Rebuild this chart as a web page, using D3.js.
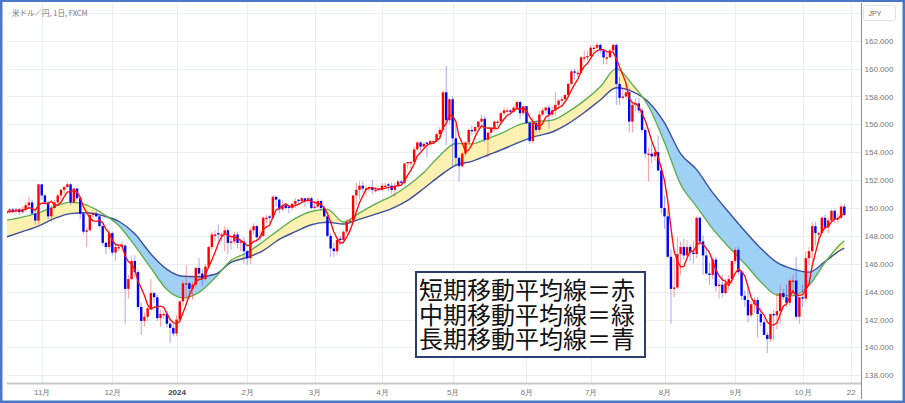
<!DOCTYPE html>
<html><head><meta charset="utf-8">
<script src="https://cdn.jsdelivr.net/npm/d3@7"></script>
<style>html,body{margin:0;padding:0;background:#fff}svg{display:block}
.lg{line-height:24.5px;font-family:'Noto Sans CJK JP',sans-serif;font-size:24px;color:#111;white-space:pre-line;margin:0;padding:0}</style>
</head><body><svg id="c" width="905" height="403"></svg>
<script>
// ---------- DATA ----------
const title = "米ドル／円, 1日, FXCM";
const currency = "JPY";
const startDate = "2023-10-17";
const endDate = "2024-10-22";
const holidays = ["2023-12-25", "2024-01-01"];

const opens = [
149.6,149.8,149.9,149.8,149.9,149.7,149.9,150.2,150.4,149.6,
149.1,151.7,150.9,150.4,149.4,150.0,150.4,150.9,151.3,151.5,
151.7,150.4,151.4,150.7,149.6,148.3,148.4,149.5,149.6,149.4,
148.7,147.5,147.2,148.2,146.8,147.1,147.2,147.3,144.2,144.9,
146.2,145.4,142.9,141.9,142.2,142.8,143.9,143.6,142.1,142.3,
142.4,141.7,141.4,141.0,142.0,143.3,144.5,144.6,144.2,144.5,
145.7,145.3,144.9,145.8,147.2,148.0,148.2,148.0,148.1,148.4,
147.5,147.6,148.1,147.5,147.6,146.9,146.4,148.4,148.7,147.9,
148.0,149.2,149.4,149.3,150.8,150.6,149.9,150.2,150.1,150.0,
150.3,150.6,150.5,150.7,150.5,150.7,150.0,150.1,150.5,150.0,
149.4,148.0,147.1,146.9,147.8,147.7,148.3,149.0,149.1,150.9,
151.3,151.6,151.3,151.4,151.5,151.2,151.35,151.3,151.5,151.7,
151.6,151.3,151.6,151.9,151.8,153.2,153.2,153.3,154.2,154.7,
154.4,154.7,154.6,154.7,154.8,155.3,155.6,158.3,156.3,157.8,
155.0,153.6,153.0,153.9,154.7,155.6,155.5,155.8,156.2,156.4,
154.9,155.4,155.7,156.1,156.2,156.8,156.9,157.0,156.9,157.2,
157.6,156.8,157.3,156.1,154.8,156.1,155.6,156.7,157.0,157.2,
156.7,157.0,157.4,157.7,157.8,158.1,158.9,159.8,159.6,159.7,
160.7,160.8,160.9,161.4,161.5,161.7,161.3,160.7,160.8,161.3,
161.7,158.9,157.9,158.0,158.3,156.2,157.4,157.5,157.0,155.6,
153.8,153.9,153.7,154.0,152.7,150.0,149.4,146.5,144.2,144.3,
146.7,147.2,146.6,147.2,146.8,146.7,149.3,147.6,146.6,145.3,
145.2,146.3,144.4,144.5,143.9,144.6,144.9,146.2,147.0,145.4,
143.7,143.4,142.3,143.1,143.4,142.4,141.8,140.9,140.6,142.4,
142.3,142.6,143.9,143.6,143.2,144.7,144.8,142.2,143.6,143.5,
146.4,146.9,148.7,148.1,148.2,149.3,148.6,149.1,149.8,149.2,
149.3,150.1];
const highs = [
149.9,150.0,150.0,150.0,150.0,150.1,150.4,150.8,150.6,149.8,
151.75,151.7,151.0,150.5,150.2,150.6,151.0,151.4,151.6,151.9,
151.8,151.4,151.4,150.8,149.7,148.6,149.7,149.7,149.8,149.5,
148.8,147.6,148.5,148.3,147.5,147.4,147.6,147.4,145.2,146.6,
146.6,145.6,143.2,142.5,142.9,144.9,144.0,143.8,142.7,142.6,
142.6,141.8,141.7,142.3,143.4,144.8,145.9,144.7,144.7,145.8,
146.4,145.6,146.0,147.3,148.3,148.4,148.8,148.3,148.7,148.6,
147.9,148.3,148.3,147.8,147.9,147.0,148.6,148.9,148.8,148.4,
149.4,149.5,149.5,150.9,150.9,150.7,150.5,150.3,150.2,150.4,
150.7,150.6,150.8,150.7,150.8,150.8,150.5,150.7,150.6,150.2,
149.5,148.2,147.5,147.8,148.0,148.4,149.2,149.2,150.9,151.8,
151.9,151.9,151.6,151.6,152.0,151.5,151.4,151.8,151.8,151.8,
151.8,151.8,152.0,152.0,153.2,153.3,153.4,154.4,154.8,154.8,
154.7,154.7,154.9,154.9,155.4,155.8,158.4,160.2,157.9,158.0,
156.0,153.7,154.0,154.8,155.7,155.9,155.9,156.2,156.7,156.6,
155.5,155.8,156.3,156.3,156.9,157.2,157.2,157.1,157.3,157.7,
157.7,157.3,157.3,156.2,156.5,156.3,157.0,157.2,157.3,157.4,
157.3,158.3,157.8,158.0,158.2,159.0,159.9,160.0,159.9,160.9,
161.3,161.3,161.7,161.7,161.9,161.8,161.3,161.2,161.4,161.8,
161.8,159.4,158.6,158.9,158.6,157.6,157.9,157.9,157.2,155.8,
154.3,154.7,154.2,155.2,153.1,150.9,149.9,147.0,146.4,147.9,
147.6,147.8,147.7,147.4,147.6,149.4,149.4,148.0,147.2,146.1,
146.5,146.5,144.9,145.2,144.9,145.2,146.2,147.2,147.2,145.5,
144.1,144.6,143.3,143.6,143.6,142.9,142.1,141.1,142.4,142.7,
143.9,144.5,144.2,144.5,144.9,145.2,146.5,143.6,144.5,146.9,
147.2,149.0,149.0,148.3,149.4,149.5,149.3,149.9,149.9,149.6,
150.3,150.3];
const lows = [
149.5,149.6,149.6,149.6,149.5,149.6,149.8,150.1,149.5,148.8,
148.8,150.6,150.2,149.2,149.0,149.9,150.2,150.6,151.0,151.4,
150.2,150.3,150.6,149.2,148.1,147.2,148.4,149.3,149.3,148.6,
147.3,146.7,147.0,146.6,146.2,146.9,146.9,141.7,143.5,144.8,
145.0,142.7,140.9,141.5,141.9,142.8,143.2,141.9,141.5,142.1,
141.4,140.3,140.8,140.8,141.8,143.0,143.4,143.6,143.4,144.3,
144.9,144.4,144.8,145.6,147.0,147.6,147.6,147.6,146.9,146.7,
147.0,147.4,147.1,146.9,146.0,145.9,146.0,148.1,147.6,147.6,
147.9,148.9,148.9,149.2,150.1,149.6,149.8,149.9,149.6,149.8,
150.0,150.3,150.4,150.1,150.3,149.9,149.9,150.0,149.8,149.3,
147.9,146.5,146.5,146.6,147.3,147.4,148.1,148.9,148.9,150.2,
150.6,151.1,150.8,151.2,151.0,151.1,151.2,151.2,151.5,151.2,
151.0,150.8,151.6,151.6,151.7,152.8,152.6,153.1,154.1,154.1,
154.2,153.6,154.5,154.6,154.7,155.0,155.4,154.5,156.0,153.0,
153.0,151.9,152.9,153.7,154.6,155.2,155.3,155.6,156.0,154.7,
153.6,155.2,155.5,155.9,156.1,156.6,156.8,156.6,156.8,157.0,
156.4,156.6,156.0,154.6,154.6,155.4,155.4,156.6,156.8,155.7,
156.5,156.6,157.1,157.5,157.7,157.9,158.8,159.2,159.4,159.7,
160.5,160.6,160.8,161.2,161.2,161.1,160.3,160.3,160.8,161.2,
157.4,157.4,157.8,157.8,155.4,155.4,156.9,156.8,155.4,153.6,
151.9,153.2,153.4,152.6,149.6,148.5,146.4,141.7,143.6,144.2,
145.2,146.3,146.5,146.2,146.0,146.4,147.3,145.2,145.2,144.5,
144.9,144.0,143.5,143.6,143.8,144.1,144.5,146.0,145.2,143.4,
142.9,141.8,142.1,142.5,140.7,141.5,140.9,139.6,140.4,140.5,
141.3,141.7,143.4,142.9,143.0,144.1,142.0,141.7,142.9,143.3,
145.9,145.9,147.3,147.4,148.1,148.5,148.2,149.0,148.9,148.9,
149.2,149.4];
const closes = [
149.8,149.9,149.8,149.9,149.7,149.9,150.2,150.4,149.6,149.1,
151.7,150.9,150.4,149.4,150.0,150.4,150.9,151.3,151.5,151.7,
150.4,151.4,150.7,149.6,148.3,148.4,149.5,149.6,149.4,148.7,
147.5,147.2,148.2,146.8,147.2,147.2,147.3,144.2,144.9,146.2,
145.4,142.9,141.9,142.2,142.8,143.9,143.6,142.1,142.4,142.4,
141.7,141.4,141.0,142.0,143.3,144.6,144.6,144.2,144.5,145.7,
145.3,144.9,145.8,147.2,148.1,148.1,148.1,148.1,148.4,147.5,
147.6,148.1,147.5,147.6,146.9,146.4,148.4,148.7,147.9,148.0,
149.3,149.3,149.3,150.8,150.6,149.9,150.2,150.0,150.0,150.3,
150.5,150.5,150.7,150.5,150.7,150.0,150.1,150.5,150.0,149.4,
148.0,147.1,146.9,147.7,147.7,148.3,149.0,149.1,150.9,151.3,
151.6,151.4,151.4,151.5,151.3,151.3,151.3,151.6,151.6,151.6,
151.3,151.6,151.9,151.8,153.2,153.3,153.3,154.2,154.7,154.4,
154.6,154.6,154.8,154.8,155.3,155.6,158.3,156.3,157.8,155.0,
153.6,153.0,153.9,154.7,155.6,155.5,155.8,156.2,156.4,154.9,
155.4,155.7,156.2,156.2,156.8,157.0,157.0,156.9,157.2,157.6,
156.8,157.3,156.1,154.8,156.1,155.6,156.7,157.0,157.2,156.7,
157.0,157.4,157.7,157.8,158.1,158.9,159.8,159.7,159.7,160.8,
160.8,160.9,161.5,161.5,161.7,161.3,160.8,160.8,161.3,161.7,
158.9,157.9,158.0,158.3,156.2,157.4,157.5,157.0,155.6,153.9,
153.9,153.7,154.0,152.7,150.0,149.4,146.5,144.2,144.3,146.7,
147.2,146.6,147.2,146.8,146.7,149.3,147.6,146.6,145.3,145.2,
146.3,144.4,144.5,143.9,144.6,144.9,146.2,147.0,145.4,143.7,
143.4,142.3,143.1,143.4,142.4,141.8,140.9,140.6,142.4,142.3,
142.6,143.9,143.6,143.2,144.8,144.8,142.2,143.6,143.5,146.4,
146.9,148.7,148.2,148.2,149.3,148.6,149.1,149.8,149.2,149.3,
150.1,149.5];

// short moving average (red), one value per bar
const maShort = [
149.70,149.75,149.75,149.80,149.82,149.84,149.90,150.02,149.96,149.84,
150.20,150.34,150.34,150.30,150.48,150.22,150.22,150.40,150.82,151.16,
151.16,151.26,151.14,150.76,150.08,149.68,149.30,149.08,149.04,149.12,
148.94,148.48,148.20,147.68,147.38,147.32,147.34,146.54,146.16,145.96,
145.60,144.72,144.26,143.72,143.04,142.74,142.88,142.92,142.96,142.88,
142.44,142.00,141.78,141.70,141.88,142.46,143.10,143.74,144.24,144.72,
144.86,144.92,145.24,145.78,146.26,146.82,147.46,147.92,148.16,148.04,
147.94,147.94,147.82,147.66,147.54,147.30,147.36,147.60,147.66,147.88,
148.46,148.64,148.76,149.34,149.86,149.98,150.16,150.30,150.14,150.08,
150.20,150.26,150.40,150.50,150.58,150.48,150.40,150.36,150.26,150.00,
149.60,149.00,148.28,147.82,147.48,147.54,147.92,148.36,149.00,149.72,
150.38,150.86,151.32,151.44,151.44,151.38,151.36,151.40,151.42,151.48,
151.48,151.54,151.60,151.64,151.96,152.36,152.70,153.16,153.74,153.98,
154.24,154.50,154.62,154.64,154.82,155.02,155.76,156.06,156.66,156.60,
156.20,155.14,154.66,154.04,154.16,154.54,155.10,155.56,155.90,155.76,
155.74,155.72,155.72,155.68,156.06,156.38,156.64,156.78,156.98,157.14,
157.10,157.16,157.00,156.52,156.22,155.98,155.86,156.04,156.52,156.64,
156.92,157.06,157.20,157.32,157.60,157.98,158.46,158.86,159.24,159.78,
160.16,160.38,160.74,161.10,161.28,161.38,161.36,161.22,161.18,161.18,
160.70,160.12,159.56,158.96,157.86,157.56,157.48,157.28,156.74,156.28,
155.58,154.82,154.22,153.64,152.86,151.96,150.52,148.56,146.88,146.22,
145.78,145.80,146.40,146.90,146.90,147.32,147.52,147.40,147.10,146.80,
146.20,145.56,145.14,144.86,144.74,144.46,144.82,145.32,145.62,145.44,
145.14,144.36,143.58,143.18,142.92,142.60,142.32,141.82,141.62,141.60,
141.76,142.36,142.96,143.12,143.62,144.06,143.72,143.72,143.80,144.12,
144.54,145.84,146.76,147.68,148.26,148.60,148.68,149.00,149.20,149.20,
149.50,149.58];

// medium (green) and long (blue) moving averages, read at every 5th bar
const maBars = [0,5,10,15,20,25,30,35,40,45,50,55,60,65,70,75,80,85,90,95,100,105,110,115,120,125,130,135,140,145,150,155,160,165,170,175,180,185,190,195,200,205,210,215,220,225,230,235,240,245,250,255,260,261];
const maMid = [149.12,149.35,149.65,150.1,150.42,150.2,149.6,148.75,147.3,145.7,144.15,143.55,143.95,145.0,146.25,146.8,147.6,148.45,149.25,149.75,149.9,149.0,149.65,150.3,150.85,151.6,152.55,153.75,154.63,154.6,155.0,155.45,156.0,156.2,156.3,156.9,157.7,158.7,160.0,158.85,157.3,154.7,151.7,150.1,148.5,147.2,146.0,144.7,143.76,143.7,144.45,146.1,147.45,147.65];
const maLong = [147.92,148.3,148.7,149.25,149.6,149.66,149.45,149.05,148.15,146.7,145.6,145.1,145.07,145.25,146.1,146.45,146.95,147.75,148.3,148.8,148.98,148.85,149.2,149.56,149.96,150.55,151.4,152.3,153.08,153.35,153.8,154.25,154.75,155.15,155.45,156.05,156.85,157.75,158.62,158.35,157.6,156.1,153.9,152.75,151.1,149.7,148.35,147.1,146.1,145.62,145.4,146.15,147.0,147.1];

const priceTicks = [138,140,142,144,146,148,150,152,154,156,158,160,162];
const gridTicks = [138,140,142,144,146,148,150,152,154,156,158,160,162,164];
const timeTickDates = ["2023-11-01","2023-12-01","2024-01-02","2024-02-01","2024-03-01","2024-04-01","2024-05-01","2024-06-03","2024-07-01","2024-08-01","2024-09-02","2024-10-01","2024-10-22"];
const timeTickLabels = ["11月","12月","2024","2月","3月","4月","5月","6月","7月","8月","9月","10月","22"];
const legendLines = ["短期移動平均線＝赤","中期移動平均線＝緑","長期移動平均線＝青"];

// ---------- CALENDAR (trading days) ----------
const cal = [];
for (let d = new Date(startDate + "T00:00:00Z"); d <= new Date(endDate + "T00:00:00Z"); d.setUTCDate(d.getUTCDate() + 1)) {
  const wd = d.getUTCDay();
  const s = d.toISOString().slice(0, 10);
  if (wd === 0 || wd === 6 || holidays.includes(s)) continue;
  cal.push(s);
}
const calIndex = new Map(cal.map((s, i) => [s, i]));

// ---------- LAYOUT ----------
const W = 905, H = 403;
const P = {l: 7, r: 861, t: 3, b: 383};
const svg = d3.select("#c");
const x = d3.scaleLinear().domain([0.19, 266.2]).range([P.l, P.r]);
const y = d3.scaleLinear().domain([138, 162]).range([375.3, 40.7]);
const FONT = "'Liberation Sans', Arial, sans-serif";

svg.append("rect").attr("width", W).attr("height", H).attr("fill", "#fff");

const defs = svg.append("defs");
defs.append("clipPath").attr("id", "plotClip").append("rect")
  .attr("x", P.l).attr("y", P.t).attr("width", P.r - P.l).attr("height", P.b - P.t);

// grid
const grid = svg.append("g").attr("stroke", "#e9eef3").attr("stroke-width", 1);
grid.selectAll("line.h").data(gridTicks).join("line")
  .attr("x1", P.l).attr("x2", P.r)
  .attr("y1", d => Math.round(y(d)) + 0.5).attr("y2", d => Math.round(y(d)) + 0.5);
const tickIdx = timeTickDates.map(s => calIndex.get(s));
grid.selectAll("line.v").data(tickIdx).join("line")
  .attr("y1", P.t).attr("y2", P.b)
  .attr("x1", d => Math.round(x(d)) + 0.5).attr("x2", d => Math.round(x(d)) + 0.5);

// moving-average band fills
const maPts = maBars.map((b, k) => ({b, m: maMid[k], l: maLong[k]}));
const curve = d3.curveMonotoneX;
defs.append("clipPath").attr("id", "aboveMid").append("path")
  .attr("d", d3.area().curve(curve).x(d => x(d.b)).y0(0).y1(d => y(d.m))(maPts));
defs.append("clipPath").attr("id", "belowMid").append("path")
  .attr("d", d3.area().curve(curve).x(d => x(d.b)).y0(d => y(d.m)).y1(H)(maPts));

const plotG = svg.append("g").attr("clip-path", "url(#plotClip)");
plotG.append("path").attr("clip-path", "url(#aboveMid)")
  .attr("d", d3.area().curve(curve).x(d => x(d.b)).y0(H).y1(d => y(d.l))(maPts))
  .attr("fill", "#9fd0f6");
plotG.append("path").attr("clip-path", "url(#belowMid)")
  .attr("d", d3.area().curve(curve).x(d => x(d.b)).y0(0).y1(d => y(d.l))(maPts))
  .attr("fill", "#fcf1b0");

plotG.append("path")
  .attr("d", d3.line().curve(curve).x(d => x(d.b)).y(d => y(d.l))(maPts))
  .attr("fill", "none").attr("stroke", "#3d4f9f").attr("stroke-width", 1.4);
plotG.append("path")
  .attr("d", d3.line().curve(curve).x(d => x(d.b)).y(d => y(d.m))(maPts))
  .attr("fill", "none").attr("stroke", "#5fae4f").attr("stroke-width", 1.4);

// candles
const bars = opens.map((o, i) => ({i, o, h: highs[i], l: lows[i], c: closes[i], up: closes[i] >= o}));
const cg = plotG.append("g");
cg.selectAll("line.w").data(bars).join("line")
  .attr("x1", d => x(d.i)).attr("x2", d => x(d.i))
  .attr("y1", d => y(d.h)).attr("y2", d => y(d.l))
  .attr("stroke", d => d.up ? "rgba(255,40,40,0.45)" : "rgba(60,60,255,0.45)")
  .attr("stroke-width", 1);
cg.selectAll("rect.b").data(bars).join("rect")
  .attr("x", d => x(d.i) - 1.2).attr("width", 2.4)
  .attr("y", d => y(Math.max(d.o, d.c)))
  .attr("height", d => Math.max(1, Math.abs(y(d.o) - y(d.c))))
  .attr("fill", d => d.up ? "#ff0000" : "#0000ff");

// short MA (red)
plotG.append("path")
  .attr("d", d3.line().x((d, i) => x(i)).y(d => y(d))(maShort))
  .attr("fill", "none").attr("stroke", "#ff1010").attr("stroke-width", 1.4);

// axes
svg.append("line").attr("x1", P.l).attr("x2", P.r).attr("y1", P.b + 0.5).attr("y2", P.b + 0.5)
  .attr("stroke", "#c8c8c8").attr("stroke-width", 2);
svg.append("line").attr("x1", P.r + 0.5).attr("x2", P.r + 0.5).attr("y1", P.t).attr("y2", 399)
  .attr("stroke", "#8f8f8f").attr("stroke-width", 1);

const xAxis = d3.axisBottom(x).tickValues(tickIdx).tickFormat((d, i) => timeTickLabels[i]).tickSize(0).tickPadding(6);
const gx = svg.append("g").attr("transform", `translate(0,${P.b})`).call(xAxis);
gx.select(".domain").remove();
gx.selectAll("text").attr("font-family", FONT).attr("font-size", 8)
  .attr("fill", (d, i) => timeTickLabels[i] === "2024" ? "#444" : "#777")
  .attr("font-weight", (d, i) => timeTickLabels[i] === "2024" ? "bold" : "normal");

const yAxis = d3.axisRight(y).tickValues(priceTicks).tickFormat(d3.format(".3f")).tickSize(0);
const gy = svg.append("g").attr("transform", `translate(${P.r},0)`).call(yAxis);
gy.select(".domain").remove();
gy.selectAll("text").attr("x", 18).attr("text-anchor", "middle")
  .attr("font-family", FONT).attr("font-size", 8).attr("fill", "#777");

// currency box
svg.append("rect").attr("x", 863.5).attr("y", 5.5).attr("width", 32).attr("height", 15).attr("rx", 2)
  .attr("fill", "#fff").attr("stroke", "#e2e2e2");
svg.append("text").attr("x", 875).attr("y", 16).attr("text-anchor", "middle")
  .attr("font-family", FONT).attr("font-size", 7).attr("fill", "#666").text(currency);

// title
svg.append("text").attr("x", 12).attr("y", 16).attr("font-family", "'Noto Sans CJK JP', sans-serif")
  .attr("font-size", 7.5).attr("fill", "#777").text(title);

// legend box: one wrapped text block of three lines
svg.append("rect").attr("x", 416).attr("y", 272).attr("width", 229).attr("height", 85)
  .attr("fill", "#fff").attr("stroke", "#2c3e6e").attr("stroke-width", 2);
svg.append("foreignObject").attr("x", 419).attr("y", 277).attr("width", 224).attr("height", 76)
  .append("xhtml:div").attr("class", "lg").text(legendLines.join("\n"));

// outer border
svg.append("rect").attr("x", 1.25).attr("y", 0.75).attr("width", W - 2.5).attr("height", H - 2)
  .attr("fill", "none").attr("stroke", "#4a78c8").attr("stroke-width", 2.5);
</script>
</body></html>
